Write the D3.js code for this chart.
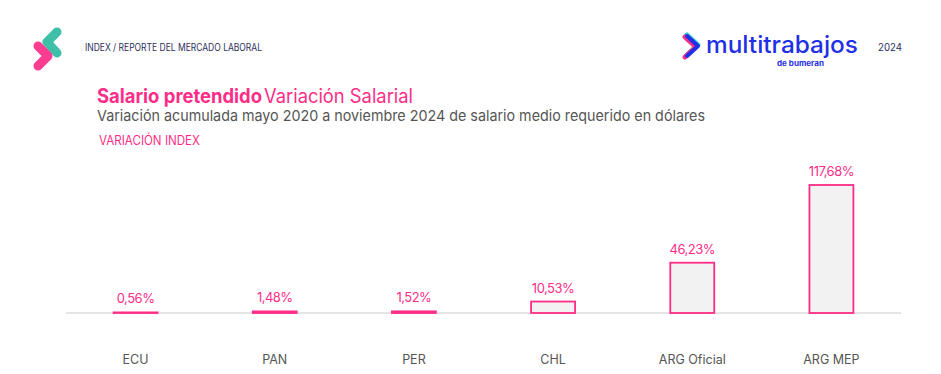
<!DOCTYPE html>
<html>
<head>
<meta charset="utf-8">
<script src="https://cdn.jsdelivr.net/npm/d3@7"></script>
<style>
  body { margin: 0; background: #fff; }
  text { font-family: Inter, "Open Sans", sans-serif; }
</style>
</head>
<body>
<script>
var categories = ["ECU", "PAN", "PER", "CHL", "ARG Oficial", "ARG MEP"];
var values = [0.56, 1.48, 1.52, 10.53, 46.23, 117.68];
var valueLabels = ["0,56%", "1,48%", "1,52%", "10,53%", "46,23%", "117,68%"];

var width = 941, height = 374;
var pink = "#ff2d87";
var navy = "#2b2d5c";
var blue = "#1f30e6";

var svg = d3.select("body").append("svg")
  .attr("width", width)
  .attr("height", height);

// left logo
svg.append("polyline")
  .attr("points", "57,32 47,42 57,53")
  .attr("fill", "none").attr("stroke", "#3dbfa8")
  .attr("stroke-width", 9).attr("stroke-linecap", "round").attr("stroke-linejoin", "round");
svg.append("polyline")
  .attr("points", "38,46 48,56 38,66")
  .attr("fill", "none").attr("stroke", pink).attr("stroke-opacity", 0.92)
  .attr("stroke-width", 9).attr("stroke-linecap", "round").attr("stroke-linejoin", "round");

svg.append("text")
  .attr("x", 85).attr("y", 51)
  .attr("font-size", 10).attr("fill", navy)
  .attr("textLength", 177).attr("lengthAdjust", "spacingAndGlyphs")
  .text("INDEX / REPORTE DEL MERCADO LABORAL");

// right logo
var chev = "686,36 697,46 686,56";
svg.append("polyline")
  .attr("points", chev)
  .attr("fill", "none").attr("stroke", "#35c8d8")
  .attr("stroke-width", 5).attr("stroke-linejoin", "round").attr("stroke-linecap", "round")
  .attr("transform", "translate(1,-1)");
svg.append("polyline")
  .attr("points", chev)
  .attr("fill", "none").attr("stroke", pink)
  .attr("stroke-width", 5).attr("stroke-linejoin", "round").attr("stroke-linecap", "round")
  .attr("transform", "translate(-1,1)");
svg.append("polyline")
  .attr("points", "687,36 698,46 687,56")
  .attr("fill", "none").attr("stroke", blue)
  .attr("stroke-width", 4).attr("stroke-linejoin", "round").attr("stroke-linecap", "round");
svg.append("text")
  .attr("x", 706).attr("y", 53)
  .attr("font-size", 24).attr("font-weight", 500).attr("fill", blue)
  .attr("textLength", 152).attr("lengthAdjust", "spacingAndGlyphs")
  .text("multitrabajos");
svg.append("text")
  .attr("x", 777).attr("y", 66)
  .attr("font-size", 7.5).attr("font-weight", 700).attr("fill", blue)
  .attr("textLength", 47).attr("lengthAdjust", "spacingAndGlyphs")
  .text("de bumeran");
svg.append("text")
  .attr("x", 878).attr("y", 51)
  .attr("font-size", 10.5).attr("fill", navy)
  .attr("textLength", 24).attr("lengthAdjust", "spacingAndGlyphs")
  .text("2024");

// titles
svg.append("text").attr("x", 97).attr("y", 103)
  .attr("font-size", 19.5).attr("font-weight", 700).attr("fill", pink)
  .attr("textLength", 165).attr("lengthAdjust", "spacingAndGlyphs")
  .text("Salario pretendido");
svg.append("text").attr("x", 264).attr("y", 103)
  .attr("font-size", 19.5).attr("fill", pink)
  .attr("textLength", 149).attr("lengthAdjust", "spacingAndGlyphs")
  .text("Variación Salarial");

svg.append("text")
  .attr("x", 97).attr("y", 121)
  .attr("font-size", 15).attr("fill", "#555")
  .attr("textLength", 608).attr("lengthAdjust", "spacingAndGlyphs")
  .text("Variación acumulada mayo 2020 a noviembre 2024 de salario medio requerido en dólares");

svg.append("text")
  .attr("x", 99).attr("y", 145)
  .attr("font-size", 12.5).attr("fill", pink)
  .attr("textLength", 101).attr("lengthAdjust", "spacingAndGlyphs")
  .text("VARIACIÓN INDEX");

// chart
var x = d3.scaleBand()
  .domain(categories)
  .range([66, 901])
  .paddingInner(0.684)
  .paddingOuter(0.342);

var y = d3.scaleLinear()
  .domain([0, 117.68])
  .range([313, 185]);

svg.append("line")
  .attr("x1", 66).attr("x2", 901)
  .attr("y1", y(0)).attr("y2", y(0))
  .attr("stroke", "#dcdcdc").attr("stroke-width", 1.5);

svg.selectAll("rect.bar")
  .data(values)
  .enter().append("rect")
  .attr("class", "bar")
  .attr("x", (d, i) => x(categories[i]))
  .attr("y", d => y(d))
  .attr("width", x.bandwidth())
  .attr("height", d => y(0) - y(d))
  .attr("fill", "#f2f2f2")
  .attr("stroke", pink)
  .attr("stroke-width", 1.8);

svg.selectAll("text.val")
  .data(values)
  .enter().append("text")
  .attr("class", "val")
  .attr("x", (d, i) => x(categories[i]) + x.bandwidth() / 2)
  .attr("y", d => y(d) - 9)
  .attr("text-anchor", "middle")
  .attr("font-size", 13)
  .attr("letter-spacing", -0.5)
  .attr("fill", pink)
  .text((d, i) => valueLabels[i]);

svg.selectAll("text.cat")
  .data(categories)
  .enter().append("text")
  .attr("class", "cat")
  .attr("x", d => x(d) + x.bandwidth() / 2)
  .attr("y", 364)
  .attr("text-anchor", "middle")
  .attr("font-size", 12.5)
  .attr("fill", "#555")
  .text(d => d);
</script>
</body>
</html>
